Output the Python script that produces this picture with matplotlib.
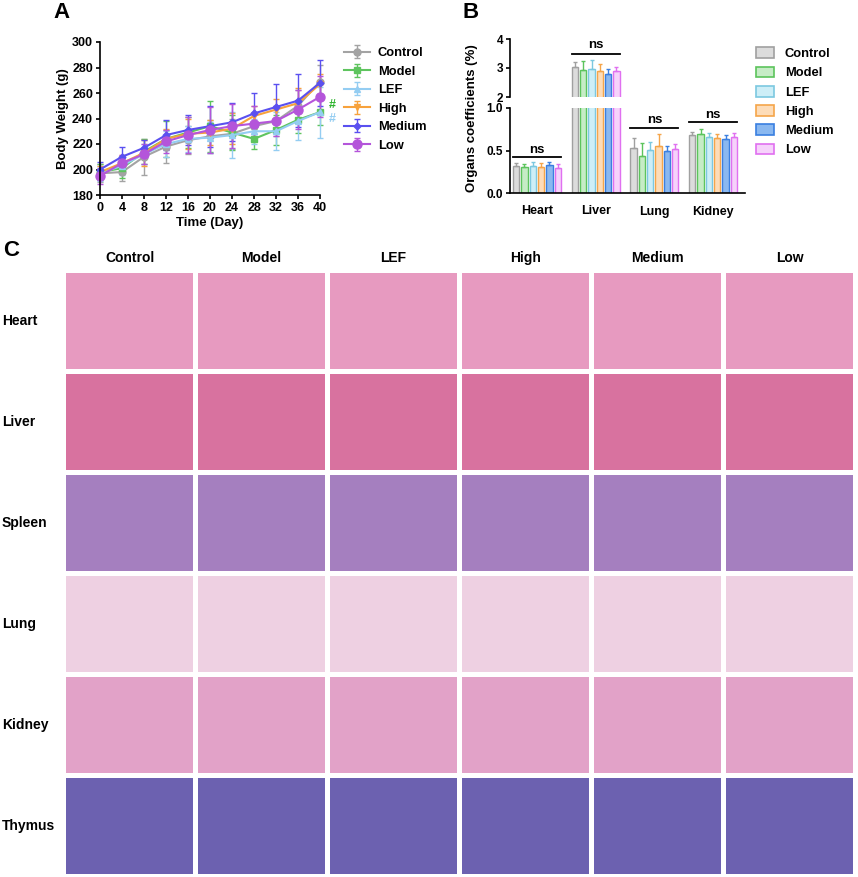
import matplotlib
matplotlib.use("Agg")
import matplotlib.pyplot as plt
import numpy as np
from matplotlib.patches import Patch

plt.rcParams['font.family'] = ['Liberation Sans', 'DejaVu Sans']
plt.rcParams['font.weight'] = 'bold'
plt.rcParams['axes.labelweight'] = 'bold'

groups = ['Control', 'Model', 'LEF', 'High', 'Medium', 'Low']

# panel A: body weight
days = [0, 4, 8, 12, 16, 20, 24, 28, 32, 36, 40]
w_control = [197, 198, 210, 218, 223, 226, 228, 234, 238, 250, 269]
w_model = [198, 201, 214, 224, 229, 234, 229, 224, 231, 239, 245]
w_lef = [197, 203, 212, 220, 224, 225, 227, 230, 230, 238, 245]
w_high = [198, 205, 213, 224, 228, 229, 232, 242, 247, 252, 267]
w_medium = [200, 210, 217, 227, 231, 234, 237, 244, 249, 254, 268]
w_low = [195, 205, 212, 222, 227, 231, 234, 236, 238, 247, 257]
e_control = [7, 7, 14, 13, 11, 13, 12, 10, 12, 12, 13]
e_model = [6, 8, 10, 14, 12, 20, 14, 8, 12, 10, 10]
e_lef = [6, 7, 8, 10, 10, 12, 18, 10, 15, 15, 20]
e_high = [5, 6, 10, 8, 12, 10, 12, 8, 8, 12, 8]
e_medium = [6, 8, 6, 12, 12, 16, 15, 16, 18, 21, 18]
e_low = [6, 6, 8, 9, 14, 18, 17, 14, 12, 15, 16]

# panel B: organ coefficients
organs = ['Heart', 'Liver', 'Lung', 'Kidney']
c_control = [0.32, 3.02, 0.53, 0.68]
c_model = [0.31, 2.93, 0.44, 0.70]
c_lef = [0.32, 2.95, 0.51, 0.66]
c_high = [0.31, 2.88, 0.55, 0.65]
c_medium = [0.33, 2.78, 0.49, 0.63]
c_low = [0.30, 2.90, 0.52, 0.66]
ce_control = [0.03, 0.20, 0.12, 0.04]
ce_model = [0.03, 0.30, 0.15, 0.05]
ce_lef = [0.04, 0.33, 0.09, 0.05]
ce_high = [0.04, 0.25, 0.15, 0.04]
ce_medium = [0.03, 0.20, 0.06, 0.05]
ce_low = [0.04, 0.15, 0.06, 0.05]
ns_level = [0.42, 3.48, 0.77, 0.83]

# panel C
tissues = ['Heart', 'Liver', 'Spleen', 'Lung', 'Kidney', 'Thymus']

line_colors = ['#a3a3a3', '#5ec45e', '#94cdf2', '#f7a23c', '#5a50f0', '#b455da']
markers = ['o', 's', '^', 'v', 'D', 'o']
msizes = [5, 5, 5, 5, 3.5, 6.5]
edge_colors = ['#a0a0a0', '#5cc45c', '#7cc8e0', '#f5a54a', '#3a7fe0', '#e070f0']
fill_colors = ['#dcdcdc', '#c6ecc6', '#cdeef7', '#fddcb8', '#8ab8f0', '#f6d2fb']
tissue_colors = ['#e79ac0', '#d8729f', '#a57fbf', '#eed0e2', '#e2a2c8', '#6c61b0']

fig = plt.figure(figsize=(8.58, 8.77), dpi=100)
W, H = 858.0, 877.0


def fx(px):
    return px / W


def fy(py):
    return 1 - py / H


# ---------- A ----------
axA = fig.add_axes([fx(100), fy(195), fx(320) - fx(100), fy(42) - fy(195)])
weights = [w_control, w_model, w_lef, w_high, w_medium, w_low]
errs = [e_control, e_model, e_lef, e_high, e_medium, e_low]
for i in range(6):
    axA.errorbar(days, weights[i], yerr=errs[i], color=line_colors[i], marker=markers[i],
                 ms=msizes[i], lw=1.5, elinewidth=1, capsize=2.5, clip_on=False,
                 label=groups[i])
axA.set_xlim(0, 40)
axA.set_ylim(180, 300)
axA.set_xticks(days)
axA.set_yticks([180, 200, 220, 240, 260, 280, 300])
axA.spines['top'].set_visible(False)
axA.spines['right'].set_visible(False)
axA.spines['left'].set_linewidth(1.2)
axA.spines['bottom'].set_linewidth(1.2)
axA.tick_params(labelsize=9, width=1.2, length=3, pad=2)
for t in axA.get_xticklabels() + axA.get_yticklabels():
    t.set_fontweight('bold')
axA.set_xlabel('Time (Day)', fontsize=9.5, labelpad=2)
axA.set_ylabel('Body Weight (g)', fontsize=9.5, labelpad=2)
axA.text(41.6, 250.5, '#', color='#2fb52f', fontsize=9, ha='left', va='center')
axA.text(41.6, 240.0, '#', color='#94cdf2', fontsize=9, ha='left', va='center')
axA.legend(loc='upper left', bbox_to_anchor=(fx(343), fy(46)), bbox_transform=fig.transFigure,
           frameon=False, fontsize=9.3, handlelength=2.0, labelspacing=0.5, handletextpad=0.6,
           borderaxespad=0, borderpad=0.1)
fig.text(fx(53), fy(13), 'A', fontsize=16, ha='left', va='center')

# ---------- B ----------
left_b, right_b = fx(510), fx(745)
axBlo = fig.add_axes([left_b, fy(193), right_b - left_b, fy(108) - fy(193)])
axBhi = fig.add_axes([left_b, fy(97), right_b - left_b, fy(39) - fy(97)])
vals = [c_control, c_model, c_lef, c_high, c_medium, c_low]
verrs = [ce_control, ce_model, ce_lef, ce_high, ce_medium, ce_low]
x = np.arange(len(organs))
slot = 0.142
bw = 0.112
for ax in (axBlo, axBhi):
    for i in range(6):
        xs = x + (i - 2.5) * slot
        ax.bar(xs, vals[i], width=bw, color=fill_colors[i], edgecolor=edge_colors[i], linewidth=1.0)
        ax.errorbar(xs, vals[i], yerr=[np.zeros(4), verrs[i]], fmt='none', ecolor=edge_colors[i],
                    elinewidth=1.0, capsize=1.5)
    ax.set_xlim(-0.46, 3.545)
    ax.spines['top'].set_visible(False)
    ax.spines['right'].set_visible(False)
    ax.spines['left'].set_linewidth(1.2)
    ax.spines['bottom'].set_linewidth(1.2)
    ax.tick_params(labelsize=8.5, width=1.2, length=3, pad=2)
    ax.patch.set_alpha(0)
axBlo.set_ylim(0, 1.0)
axBlo.set_yticks([0.0, 0.5, 1.0])
axBlo.set_yticklabels(['0.0', '0.5', '1.0'])
axBlo.set_xticks(x)
axBlo.set_xticklabels(organs)
axBlo.tick_params(axis='x', length=0, pad=9, labelsize=9)
axBhi.set_ylim(2, 4)
axBhi.set_yticks([2, 3, 4])
axBhi.spines['bottom'].set_visible(False)
axBhi.set_xticks([])
for ax in (axBlo, axBhi):
    for t in ax.get_xticklabels() + ax.get_yticklabels():
        t.set_fontweight('bold')
for j in range(4):
    ax = axBhi if ns_level[j] > 2 else axBlo
    x0 = x[j] - 2.5 * slot - bw / 2
    x1 = x[j] + 2.5 * slot + bw / 2
    ax.plot([x0, x1], [ns_level[j], ns_level[j]], color='black', lw=1.3, clip_on=False)
    off = 0.3 if ns_level[j] > 2 else 0.09
    ax.text(x[j], ns_level[j] + off, 'ns', fontsize=9.5, ha='center', va='center', clip_on=False)
fig.text(fx(472), fy(118), 'Organs coefficients (%)', fontsize=9.5, rotation=90,
         ha='center', va='center')
handles = [Patch(facecolor=fill_colors[i], edgecolor=edge_colors[i], linewidth=1.2, label=groups[i])
           for i in range(6)]
axBlo.legend(handles=handles, loc='upper left', bbox_to_anchor=(fx(755), fy(46)),
             bbox_transform=fig.transFigure, frameon=False, fontsize=9.3, handlelength=1.4,
             handleheight=0.9, labelspacing=0.5, handletextpad=0.8, borderaxespad=0,
             borderpad=0.1)
fig.text(fx(463), fy(13), 'B', fontsize=16, ha='left', va='center')

# ---------- C ----------
fig.text(fx(3), fy(250), 'C', fontsize=16, ha='left', va='center')
col_x0 = 66
col_w = 127
col_step = 132
row_y0 = 273
row_h = 96
row_step = 101
for c in range(6):
    fig.text(fx(col_x0 + c * col_step + col_w / 2), fy(258), groups[c], fontsize=10,
             ha='center', va='center')
for r in range(6):
    top = row_y0 + r * row_step
    fig.text(fx(2), fy(top + row_h / 2), tissues[r], fontsize=10, ha='left', va='center')
    for c in range(6):
        left = col_x0 + c * col_step
        cax = fig.add_axes([fx(left), fy(top + row_h), col_w / W, row_h / H])
        cax.set_facecolor(tissue_colors[r])
        cax.set_xticks([])
        cax.set_yticks([])
        for s in cax.spines.values():
            s.set_visible(False)

fig.savefig('out.png', dpi=100)
